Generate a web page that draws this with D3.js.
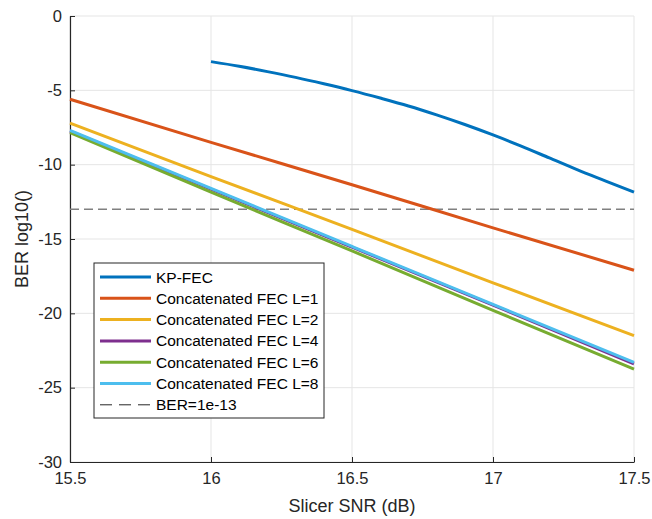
<!DOCTYPE html>
<html>
<head>
<meta charset="utf-8">
<script src="https://cdn.jsdelivr.net/npm/d3@7"></script>
<style>
  body { margin: 0; background: #fff; }
  text { font-family: "Liberation Sans", Arial, sans-serif; }
</style>
</head>
<body>
<div id="chart"></div>
<script>
const snrKp = [16, 16.1, 16.2, 16.3, 16.4, 16.5, 16.6, 16.7, 16.8, 16.9, 17, 17.1, 17.2, 17.3, 17.4, 17.5];
const berKp = [-3.07, -3.38, -3.74, -4.13, -4.56, -5.02, -5.52, -6.05, -6.65, -7.3, -8.0, -8.75, -9.55, -10.35, -11.1, -11.85];

const snr = [15.5, 16, 16.5, 17, 17.5];
const berL1 = [-5.6, -8.5, -11.35, -14.25, -17.1];
const berL2 = [-7.2, -10.8, -14.35, -17.95, -21.5];
const berL4 = [-7.75, -11.65, -15.55, -19.45, -23.4];
const berL6 = [-7.85, -11.85, -15.8, -19.8, -23.75];
const berL8 = [-7.7, -11.6, -15.5, -19.4, -23.3];

const threshold = -13;

const seriesNames = ['KP-FEC', 'Concatenated FEC L=1', 'Concatenated FEC L=2',
  'Concatenated FEC L=4', 'Concatenated FEC L=6', 'Concatenated FEC L=8', 'BER=1e-13'];
const seriesColors = ['#0072BD', '#D95319', '#EDB120', '#7E2F8E', '#77AC30', '#4DBEEE'];

const xTicks = [15.5, 16, 16.5, 17, 17.5];
const yTicks = [0, -5, -10, -15, -20, -25, -30];

const width = 652;
const height = 519;
const margin = { top: 16, right: 18, bottom: 57, left: 70 };
const plotW = width - margin.left - margin.right;
const plotH = height - margin.top - margin.bottom;

const svg = d3.select('#chart').append('svg')
  .attr('width', width)
  .attr('height', height);

const graph = svg.append('g')
  .attr('transform', `translate(${margin.left}, ${margin.top})`);

const x = d3.scaleLinear().domain([15.5, 17.5]).range([0, plotW]);
const y = d3.scaleLinear().domain([-30, 0]).range([plotH, 0]);

// grid
graph.append('g').selectAll('line').data(xTicks).enter().append('line')
  .attr('x1', d => x(d)).attr('x2', d => x(d))
  .attr('y1', 0).attr('y2', plotH)
  .attr('stroke', '#e5e5e5').attr('stroke-width', 1);
graph.append('g').selectAll('line').data(yTicks).enter().append('line')
  .attr('x1', 0).attr('x2', plotW)
  .attr('y1', d => y(d)).attr('y2', d => y(d))
  .attr('stroke', '#e5e5e5').attr('stroke-width', 1);

// axes (plain hyphen minus like the original)
const fmt = d => String(d);
const xAxis = graph.append('g')
  .attr('transform', `translate(0, ${plotH})`)
  .call(d3.axisBottom(x).tickValues(xTicks).tickSizeInner(-5).tickSizeOuter(0).tickPadding(10).tickFormat(fmt));
const yAxis = graph.append('g')
  .call(d3.axisLeft(y).tickValues(yTicks).tickSizeInner(-5).tickSizeOuter(0).tickPadding(8).tickFormat(fmt));
[xAxis, yAxis].forEach(a => {
  a.select('.domain').attr('stroke', '#262626').attr('stroke-width', 1.2);
  a.selectAll('.tick line').attr('stroke', '#262626');
  a.selectAll('.tick text').attr('fill', '#262626').style('font-size', '16.5px')
    .style('font-family', '"Liberation Sans", Arial, sans-serif');
});

// threshold
graph.append('line')
  .attr('x1', x(15.5)).attr('x2', x(17.5))
  .attr('y1', y(threshold)).attr('y2', y(threshold))
  .attr('stroke', '#808080').attr('stroke-width', 1.5)
  .attr('stroke-dasharray', '9,5');

const line = d3.line().x(d => x(d[0])).y(d => y(d[1]));
const series = [
  [snrKp, berKp], [snr, berL1], [snr, berL2], [snr, berL4], [snr, berL6], [snr, berL8]
];
series.forEach((s, i) => {
  const pts = s[0].map((v, j) => [v, s[1][j]]);
  graph.append('path')
    .datum(pts)
    .attr('d', line.curve(d3.curveMonotoneX))
    .attr('fill', 'none')
    .attr('stroke', seriesColors[i])
    .attr('stroke-width', 3);
});

// axis labels
svg.append('text')
  .attr('x', margin.left + plotW / 2).attr('y', 512)
  .attr('text-anchor', 'middle')
  .style('font-size', '18px').attr('fill', '#262626')
  .text('Slicer SNR (dB)');
svg.append('text')
  .attr('transform', `translate(28, ${margin.top + plotH / 2}) rotate(-90)`)
  .attr('text-anchor', 'middle')
  .style('font-size', '18px').attr('fill', '#262626')
  .text('BER log10()');

// legend
const legend = svg.append('g').attr('transform', 'translate(94, 263)');
legend.append('rect')
  .attr('width', 230).attr('height', 155)
  .attr('fill', '#fff').attr('stroke', '#262626').attr('stroke-width', 1);
const rows = legend.selectAll('g.row').data(seriesNames).enter().append('g')
  .attr('class', 'row')
  .attr('transform', (d, i) => `translate(0, ${14 + i * 21.3})`);
rows.append('line')
  .attr('x1', 6).attr('x2', 57).attr('y1', 0).attr('y2', 0)
  .attr('stroke', (d, i) => i < 6 ? seriesColors[i] : '#262626')
  .attr('stroke-width', (d, i) => i < 6 ? 3 : 1)
  .attr('stroke-dasharray', (d, i) => i < 6 ? null : '12,7');
rows.append('text')
  .attr('x', 62).attr('y', 5.5)
  .style('font-size', '15.5px').attr('fill', '#000')
  .text(d => d);
</script>
</body>
</html>
